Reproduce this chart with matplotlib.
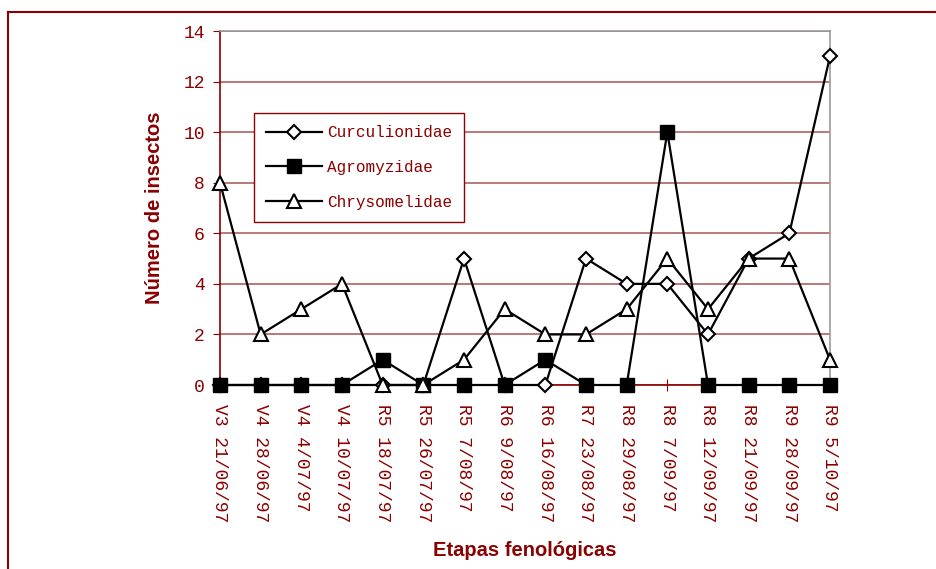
import matplotlib
matplotlib.use("Agg")
import matplotlib.pyplot as plt
from matplotlib.lines import Line2D

etapas = ['V3 21/06/97', 'V4 28/06/97', 'V4 4/07/97', 'V4 10/07/97', 'R5 18/07/97',
          'R5 26/07/97', 'R5 7/08/97', 'R6 9/08/97', 'R6 16/08/97', 'R7 23/08/97',
          'R8 29/08/97', 'R8 7/09/97', 'R8 12/09/97', 'R8 21/09/97', 'R9 28/09/97',
          'R9 5/10/97']
curculionidae = [0, 0, 0, 0, 0, 0, 5, 0, 0, 5, 4, 4, 2, 5, 6, 13]
agromyzidae = [0, 0, 0, 0, 1, 0, 0, 0, 1, 0, 0, 10, 0, 0, 0, 0]
chrysomelidae = [8, 2, 3, 4, 0, 0, 1, 3, 2, 2, 3, 5, 3, 5, 5, 1]

red = '#8b0000'
mono = 'Liberation Mono'
x = list(range(len(etapas)))

fig = plt.figure(figsize=(9.37, 5.69), dpi=100)
ax = fig.add_axes([220/937, 1 - 385/569, 610/937, 354/569])

# frame around the figure (only left and top visible)
fig.add_artist(Line2D([8/937, 8/937], [0, 1 - 12/569], color=red, lw=1.5))
fig.add_artist(Line2D([8/937, 1], [1 - 12/569, 1 - 12/569], color=red, lw=1.5))

ax.set_xlim(0, 15)
ax.set_ylim(0, 14)
ax.set_yticks(range(0, 15, 2))
ax.grid(axis='y', color='#b06060', lw=1.2)
ax.set_axisbelow(True)

ax.plot(x, curculionidae, color='k', lw=1.6, marker='D', ms=7.5, mfc='white',
        mec='k', mew=1.5, clip_on=False, zorder=3, label='Curculionidae')
ax.plot(x, agromyzidae, color='k', lw=1.6, marker='s', ms=10, mfc='k',
        mec='k', clip_on=False, zorder=4, label='Agromyzidae')
ax.plot(x, chrysomelidae, color='k', lw=1.6, marker='^', ms=10, mfc='white',
        mec='k', mew=1.5, clip_on=False, zorder=5, label='Chrysomelidae')

ax.set_xticks(x)
ax.set_xticklabels(etapas, rotation=270, fontfamily=mono, fontsize=13, color=red)
for t in ax.get_yticklabels():
    t.set_fontfamily(mono)
ax.tick_params(axis='y', colors=red, labelsize=13, length=5, direction='out', pad=6)
ax.tick_params(axis='x', colors=red, length=8, direction='inout', pad=10)

ax.spines['left'].set_color(red)
ax.spines['bottom'].set_color(red)
ax.spines['top'].set_color('#999999')
ax.spines['right'].set_color('#999999')
for s in ax.spines.values():
    s.set_linewidth(1.2)

ax.set_ylabel('Número de insectos', fontsize=14.5, fontweight='bold',
              color=red, fontfamily='Liberation Sans', labelpad=14)
ax.set_xlabel('Etapas fenológicas', fontsize=14.5, fontweight='bold',
              color=red, fontfamily='Liberation Sans', labelpad=13)

leg = ax.legend(loc='upper left', bbox_to_anchor=(0.0557, 0.768), borderaxespad=0,
                frameon=True, fancybox=False, edgecolor=red, framealpha=1,
                handlelength=3.5, handletextpad=0.3,
                prop={'family': mono, 'size': 11.5}, labelspacing=1.25, borderpad=0.75)
leg.get_frame().set_linewidth(1.0)
for t in leg.get_texts():
    t.set_color(red)

fig.savefig('out.png', dpi=100)
